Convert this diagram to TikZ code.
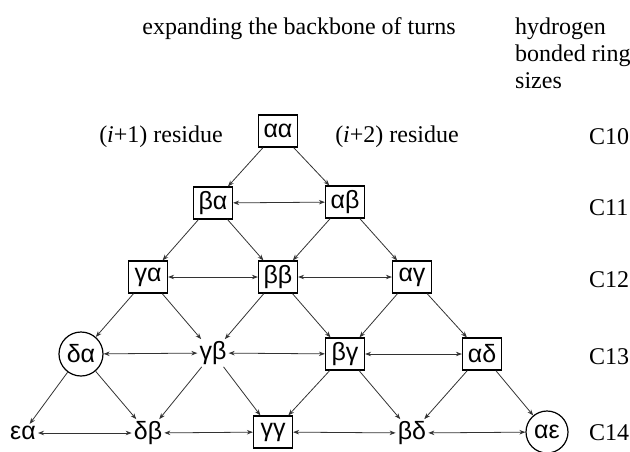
\documentclass[tikz,border=0pt]{standalone}
\usepackage{fontspec}
\setmainfont{Liberation Serif}
\newfontfamily\grk{Liberation Sans}
\usetikzlibrary{arrows.meta}
\begin{document}
\begin{tikzpicture}[x=1pt,y=-1pt,
  gfont/.style={font=\grk\fontsize{25}{25}\selectfont},
  box/.style={gfont, draw, line width=1.2pt, minimum width=39pt, minimum height=32pt, inner sep=0pt},
  circ/.style={gfont, draw, circle, line width=1.2pt, minimum size=44pt, inner sep=0pt},
  txt/.style={gfont, inner sep=2pt},
  lbl/.style={font=\fontsize{24}{24}\selectfont, inner sep=0pt},
  arr/.style={-{Stealth[length=6pt,width=4.5pt]}, line width=0.8pt, draw=black!80},
  darr/.style={{Stealth[length=6pt,width=4.5pt]}-{Stealth[length=6pt,width=4.5pt]}, line width=0.8pt, draw=black!80}]
\useasboundingbox (0,0) rectangle (630,451);
% texts
\node[lbl] (title) at (299,29) {expanding the backbone of turns};
\node[lbl, anchor=north west, align=left, font=\fontsize{24}{27}\selectfont] (hb) at (515,18) {hydrogen\\bonded ring\\sizes};
\node[lbl] (r1) at (161,137) {(\textit{i}+1) residue};
\node[lbl] (r2) at (397,137) {(\textit{i}+2) residue};
\node[lbl, anchor=west] (c10) at (589,137) {C10};
\node[lbl, anchor=west] (c11) at (589,208) {C11};
\node[lbl, anchor=west] (c12) at (589,280) {C12};
\node[lbl, anchor=west] (c13) at (589,357) {C13};
\node[lbl, anchor=west] (c14) at (589,433) {C14};
% nodes
\node[box] (aa) at (278,131) {αα};
\node[box] (ba) at (213,203) {βα};
\node[box] (ab) at (345,202) {αβ};
\node[box] (ga) at (148,277) {γα};
\node[box] (bb) at (278,277) {ββ};
\node[box] (ag) at (412,277) {αγ};
\node[circ] (da) at (81,354) {δα};
\node[txt] (gb) at (213,353) {γβ};
\node[box] (bg) at (345,354) {βγ};
\node[box] (ad) at (482,354) {αδ};
\node[txt] (ea) at (23,433) {εα};
\node[txt] (db) at (148,433) {δβ};
\node[box] (gg) at (273,432) {γγ};
\node[txt] (bd) at (412,433) {βδ};
\node[circ, minimum size=42pt] (ae) at (547,432) {αε};
% down arrows
\draw[arr] (aa) -- (ba);
\draw[arr] (aa) -- (ab);
\draw[arr] (ba) -- (ga);
\draw[arr] (ba) -- (bb);
\draw[arr] (ab) -- (bb);
\draw[arr] (ab) -- (ag);
\draw[arr] (ga) -- (da);
\draw[arr] (ga) -- (gb);
\draw[arr] (bb) -- (gb);
\draw[arr] (bb) -- (bg);
\draw[arr] (ag) -- (bg);
\draw[arr] (ag) -- (ad);
\draw[arr] (da) -- (ea);
\draw[arr] (da) -- (db);
\draw[arr] (gb) -- (db);
\draw[arr] (gb) -- (gg);
\draw[arr] (bg) -- (gg);
\draw[arr] (bg) -- (bd);
\draw[arr] (ad) -- (bd);
\draw[arr] (ad) -- (ae);
% horizontal
\draw[darr] (ba) -- (ab);
\draw[darr] (ga) -- (bb);
\draw[darr] (bb) -- (ag);
\draw[darr] (da) -- (gb);
\draw[darr] (gb) -- (bg);
\draw[darr] (bg) -- (ad);
\draw[darr] (ea) -- (db);
\draw[darr] (db) -- (gg);
\draw[darr] (gg) -- (bd);
\draw[darr] (bd) -- (ae);
\end{tikzpicture}
\end{document}
